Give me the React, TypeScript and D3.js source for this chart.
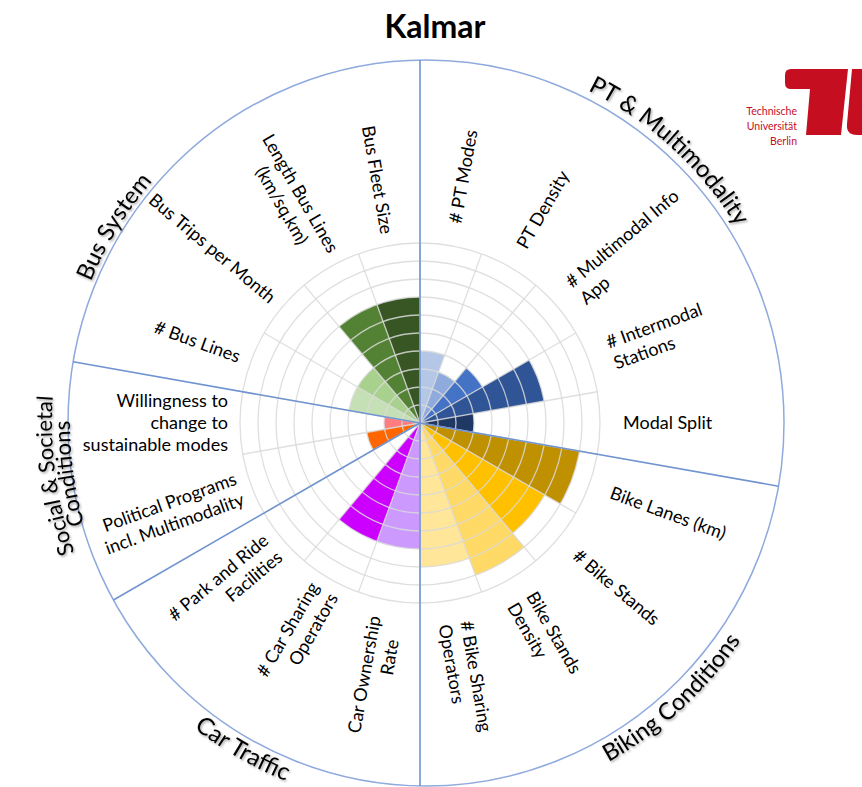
import React from "react";
import * as d3 from "d3";

const title = "Kalmar";

const groupNames = ["PT & Multimodality", "Biking Conditions", "Car Traffic", "Social & Societal", "Bus System"];

const indicators = [
  "# PT Modes",
  "PT Density",
  "# Multimodal Info|App",
  "# Intermodal|Stations",
  "Modal Split",
  "Bike Lanes (km)",
  "# Bike Stands",
  "Bike Stands|Density",
  "# Bike Sharing|Operators",
  "Car Ownership|Rate",
  "# Car Sharing|Operators",
  "# Park and Ride|Facilities",
  "Political Programs|incl. Multimodality",
  "Willingness to|change to|sustainable modes",
  "# Bus Lines",
  "Bus Trips per Month",
  "Length Bus Lines|(km/sq.km)",
  "Bus Fleet Size",
];

const indicatorGroup = [0, 0, 0, 0, 0, 1, 1, 1, 1, 2, 2, 2, 3, 3, 4, 4, 4, 4];

const values = [4, 3, 4, 7, 3, 9, 8, 9, 8, 7, 7, 0, 3, 2, 4, 4, 7, 7];

const barColors = [
  "#b4c7e7", "#8faadc", "#4472c4", "#2f5597", "#203864",
  "#bf9000", "#ffc000", "#ffd966", "#ffe699",
  "#cc99ff", "#cc00ff", "#7030a0",
  "#ff6600", "#ff7c80",
  "#c5e0b4", "#a9d18e", "#548235", "#375623",
];

const gridLevels = [1, 2, 3, 4, 5, 6, 7, 8, 9, 10];

const logoLines = ["Technische", "Universität", "Berlin"];

// layout
const W = 862, H = 787;
const CX = 420, CY = 423;
const E_CX = 426, E_RX = 358, E_RY = 363;
const R_MAX = 180;
const FONT = "Lato, 'Open Sans', sans-serif";
// per-label second-line shift along the text direction (px)
const lineShift: Record<number, number> = { 9: -20, 16: -22 };
const radiusShift: Record<number, number> = { 9: 6 };

const rad = (d: number) => (d * Math.PI) / 180;

function ePoint(aDeg: number, off: number): [number, number] {
  const a = rad(aDeg);
  return [E_CX + (E_RX + off) * Math.sin(a), CY - (E_RY + off) * Math.cos(a)];
}

function arcPath(a1: number, a2: number, off: number, cw: boolean): string {
  const [x1, y1] = ePoint(cw ? a1 : a2, off);
  const [x2, y2] = ePoint(cw ? a2 : a1, off);
  return `M${x1},${y1} A${E_RX + off},${E_RY + off} 0 0 ${cw ? 1 : 0} ${x2},${y2}`;
}

function rayToEllipse(aDeg: number): [number, number] {
  const a = rad(aDeg);
  const s = Math.sin(a), c = -Math.cos(a);
  const dx0 = CX - E_CX;
  const A = (s * s) / (E_RX * E_RX) + (c * c) / (E_RY * E_RY);
  const B = (2 * dx0 * s) / (E_RX * E_RX);
  const C = (dx0 * dx0) / (E_RX * E_RX) - 1;
  const t = (-B + Math.sqrt(B * B - 4 * A * C)) / (2 * A);
  return [CX + t * s, CY + t * c];
}

export default function App() {
  const angle = d3.scaleBand<string>().domain(indicators).range([0, 2 * Math.PI]).padding(0);
  const r = d3.scaleLinear().domain([0, 10]).range([0, R_MAX]);
  const bw = angle.bandwidth();
  const arc = d3.arc<any>();

  const groupStarts: number[] = [];
  indicatorGroup.forEach((g, i) => {
    if (i === 0 || indicatorGroup[i - 1] !== g) groupStarts.push(((angle(indicators[i]) as number) * 180) / Math.PI);
  });

  const spokes = indicators.map((d) => ((angle(d) as number) * 180) / Math.PI);

  const catLabels = [
    { text: groupNames[0], a1: 0, a2: 84, off: 8, cw: true, fs: 24 },
    { text: groupNames[1], a1: 93, a2: 183, off: 23, cw: false, fs: 23.5 },
    { text: groupNames[2], a1: 164.5, a2: 254.5, off: 22, cw: false, fs: 24 },
    { text: groupNames[3], a1: 217, a2: 307, off: 16, cw: true, fs: 22 },
    { text: "Conditions", a1: 217, a2: 307, off: -2, cw: true, fs: 22 },
    { text: groupNames[4], a1: 257, a2: 347, off: 5, cw: true, fs: 23.5 },
  ];

  return (
    <svg width={W} height={H} style={{ display: "block", position: "absolute", left: 0, top: 0, background: "#fff" }}>
      <defs>
        <filter id="shadow" x="-10%" y="-30%" width="120%" height="160%">
          <feDropShadow dx="1.2" dy="1.5" stdDeviation="1.2" floodColor="#000" floodOpacity="0.35" />
        </filter>
        {catLabels.map((c, i) => (
          <path key={i} id={`cat${i}`} d={arcPath(c.a1, c.a2, c.off, c.cw)} />
        ))}
      </defs>
      <rect width={W} height={H} fill="#fff" />

      <text x={435} y={38} textAnchor="middle" fontFamily={FONT} fontWeight="bold" fontSize={32} fill="#000">
        {title}
      </text>

      {/* bars */}
      <g transform={`translate(${CX},${CY})`}>
        {indicators.map((d, i) => (
          <path
            key={d}
            d={arc({
              innerRadius: 0,
              outerRadius: r(values[i]),
              startAngle: angle(d) as number,
              endAngle: (angle(d) as number) + bw,
            }) as string}
            fill={barColors[i]}
          />
        ))}
        {/* grid */}
        {gridLevels.map((g) => (
          <circle key={g} r={r(g)} fill="none" stroke="#d9d9d9" strokeOpacity={0.85} strokeWidth={1.3} />
        ))}
        {spokes.map((a, i) => (
          <line
            key={i}
            x1={0}
            y1={0}
            x2={R_MAX * Math.sin(rad(a))}
            y2={-R_MAX * Math.cos(rad(a))}
            stroke="#d9d9d9"
            strokeOpacity={0.85}
            strokeWidth={1.3}
          />
        ))}
      </g>

      {/* outer ellipse and dividers */}
      <ellipse cx={E_CX} cy={CY} rx={E_RX} ry={E_RY} fill="none" stroke="#8faadc" strokeWidth={1.5} />
      {groupStarts.map((a, i) => {
        const [x2, y2] = rayToEllipse(a);
        return <line key={i} x1={CX} y1={CY} x2={x2} y2={y2} stroke="#7094d0" strokeWidth={1.6} />;
      })}

      {/* indicator labels */}
      {indicators.map((d, i) => {
        const a = ((angle(d) as number) * 180) / Math.PI + 10;
        const right = a < 180;
        const r0 = (right ? 203 : 192) + (radiusShift[i] || 0);
        const x = CX + r0 * Math.sin(rad(a));
        const y = CY - r0 * Math.cos(rad(a));
        const rot = right ? a - 90 : a - 270;
        const lines = d.split("|");
        const lh = 22;
        return (
          <text
            key={d}
            transform={`translate(${x},${y}) rotate(${rot})`}
            textAnchor={right ? "start" : "end"}
            fontFamily={FONT}
            fontSize={18}
            fill="#000"
          >
            {lines.map((l, j) => (
              <tspan key={j} x={j > 0 ? lineShift[i] || 0 : 0} y={(j - (lines.length - 1) / 2) * lh + 6}>
                {l}
              </tspan>
            ))}
          </text>
        );
      })}

      {/* category labels */}
      {catLabels.map((c, i) => (
        <text key={i} fontFamily={FONT} fontSize={c.fs} fill="#000" filter="url(#shadow)">
          <textPath href={`#cat${i}`} startOffset="50%" textAnchor="middle">
            {c.text}
          </textPath>
        </text>
      ))}

      {/* logo */}
      <g fill="#c50e1f">
        <path d="M791,69 H848 L841,135 H806 L810,89 H791 Q785,89 785,83 V75 Q785,69 791,69 Z" />
        <path d="M852,69 H862 V135 H857 Q846,135 847,124 Z" />
        {logoLines.map((l, i) => (
          <text key={l} x={797} y={115 + i * 15} textAnchor="end" fontFamily={FONT} fontSize={10.5}>
            {l}
          </text>
        ))}
      </g>
    </svg>
  );
}
